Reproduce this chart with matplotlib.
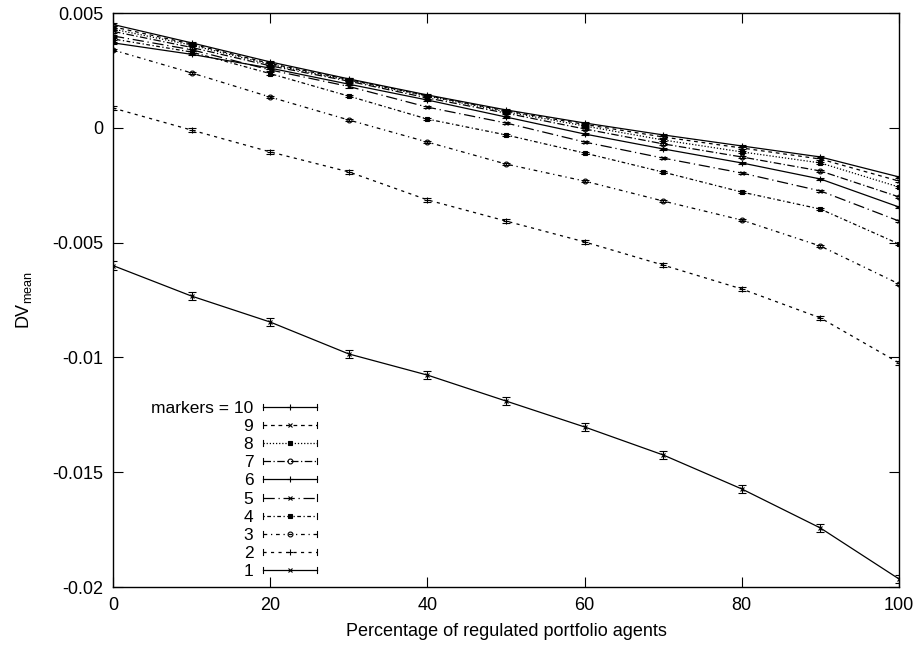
import matplotlib
matplotlib.use("Agg")
import matplotlib.pyplot as plt
import numpy as np
from matplotlib.lines import Line2D
from matplotlib.legend_handler import HandlerLine2D
from matplotlib.ticker import FuncFormatter, MultipleLocator

plt.rcParams['font.family'] = ['Liberation Sans', 'DejaVu Sans']
plt.rcParams['mathtext.fontset'] = 'custom'
plt.rcParams['mathtext.rm'] = 'Liberation Sans'
plt.rcParams['mathtext.it'] = 'Liberation Sans'

pct = [0, 10, 20, 30, 40, 50, 60, 70, 80, 90, 100]

m10 = [0.0045, 0.0037, 0.00287, 0.00213, 0.00143, 0.00078, 0.00021, -0.00031, -0.00079, -0.00127, -0.00214]
m9 = [0.0044, 0.00365, 0.0028, 0.0021, 0.0014, 0.00074, 0.00015, -0.0004, -0.00088, -0.00136, -0.00232]
m8 = [0.0043, 0.0036, 0.00276, 0.00207, 0.00138, 0.0007, 0.00008, -0.00053, -0.00105, -0.00153, -0.00258]
m7 = [0.0042, 0.0035, 0.0027, 0.00203, 0.0013, 0.00064, -0.00005, -0.0007, -0.00127, -0.00188, -0.00301]
m6 = [0.0037, 0.0032, 0.0026, 0.0019, 0.00121, 0.00047, -0.00027, -0.00092, -0.00153, -0.00223, -0.00345]
m5 = [0.0040, 0.0034, 0.00252, 0.0018, 0.0009, 0.00021, -0.00062, -0.00132, -0.00197, -0.00275, -0.00406]
m4 = [0.00387, 0.0033, 0.00236, 0.00138, 0.00038, -0.00031, -0.0011, -0.00193, -0.0028, -0.00354, -0.00506]
m3 = [0.00339, 0.00239, 0.00134, 0.00034, -0.00062, -0.00158, -0.00232, -0.00319, -0.00402, -0.00515, -0.0068]
m2 = [0.00086, -0.0001, -0.00105, -0.00192, -0.00314, -0.00406, -0.00497, -0.00598, -0.00702, -0.00828, -0.01024]
m1 = [-0.0060, -0.00733, -0.00846, -0.00985, -0.01077, -0.0119, -0.01303, -0.01425, -0.01573, -0.01743, -0.01965]

err_small = 0.00005
err2 = 0.00008
err1 = 0.00018

labels = ["markers = 10", "9", "8", "7", "6", "5", "4", "3", "2", "1"]

series = [m10, m9, m8, m7, m6, m5, m4, m3, m2, m1]
errs = [err_small] * 8 + [err2, err1]
styles = [
    dict(ls='-', marker='+', mfc='black'),
    dict(ls=(0, (3, 3)), marker='x', mfc='black'),
    dict(ls=(0, (1, 1.5)), marker='s', mfc='black'),
    dict(ls=(0, (6, 2, 1, 2)), marker='o', mfc='none'),
    dict(ls='-', marker='+', mfc='black'),
    dict(ls=(0, (9, 3, 1, 3)), marker='x', mfc='black'),
    dict(ls=(0, (1, 2, 3, 2)), marker='s', mfc='black'),
    dict(ls=(0, (3, 3, 1, 3)), marker='o', mfc='none'),
    dict(ls=(0, (2.5, 3.5)), marker='+', mfc='black'),
    dict(ls='-', marker='x', mfc='black'),
]
msizes = {'+': 4, 'x': 3.5, 's': 2.5, 'o': 3.5}

FS = 13


class CapHandler(HandlerLine2D):
    def create_artists(self, legend, orig_handle, xdescent, ydescent,
                       width, height, fontsize, trans):
        arts = super().create_artists(legend, orig_handle, xdescent, ydescent,
                                      width, height, fontsize, trans)
        line = arts[0]
        xd = line.get_xdata()
        y = line.get_ydata()[0]
        h = height * 0.25
        for xc in (xd[0], xd[-1]):
            cap = Line2D([xc, xc], [y - h, y + h], color='black', lw=0.8,
                         transform=trans)
            arts.append(cap)
        return arts


fig = plt.figure(figsize=(9.19, 6.46), dpi=100)
ax = fig.add_axes([113 / 919, 59 / 646, (899 - 113) / 919, (587 - 13) / 646])

handles = []
for y, e, st, lab in zip(series, errs, styles, labels):
    ax.errorbar(pct, y, yerr=e, color='black', lw=0.9, ls=st['ls'],
                marker=st['marker'], ms=msizes[st['marker']], mfc=st['mfc'],
                mec='black', mew=0.8, capsize=3, elinewidth=0.8, capthick=0.8)
    h = Line2D([], [], color='black', lw=0.9, ls=st['ls'], marker=st['marker'],
               ms=msizes[st['marker']], mfc=st['mfc'], mec='black', mew=0.8)
    handles.append(h)

ax.set_xlim(0, 100)
ax.set_ylim(-0.02, 0.005)
ax.xaxis.set_major_locator(MultipleLocator(20))
ax.yaxis.set_major_locator(MultipleLocator(0.005))
ax.yaxis.set_major_formatter(FuncFormatter(lambda v, p: '%g' % round(v, 6)))
ax.tick_params(direction='in', top=True, right=True, length=7, width=0.8,
               labelsize=FS, pad=7)
for s in ax.spines.values():
    s.set_linewidth(1.0)

ax.set_xlabel('Percentage of regulated portfolio agents', fontsize=FS, labelpad=7)
ax.set_ylabel(r'DV$_{\mathrm{mean}}$', fontsize=FS, labelpad=13)

leg = ax.legend(handles, labels, loc='lower right', markerfirst=False,
                frameon=False, fontsize=12.5, handlelength=3.1,
                handletextpad=0.57, labelspacing=0.17, borderpad=0,
                borderaxespad=0,
                bbox_to_anchor=(317 / 919, 67 / 646),
                bbox_transform=fig.transFigure,
                handler_map={Line2D: CapHandler()})

fig.savefig('out.png', dpi=100)
